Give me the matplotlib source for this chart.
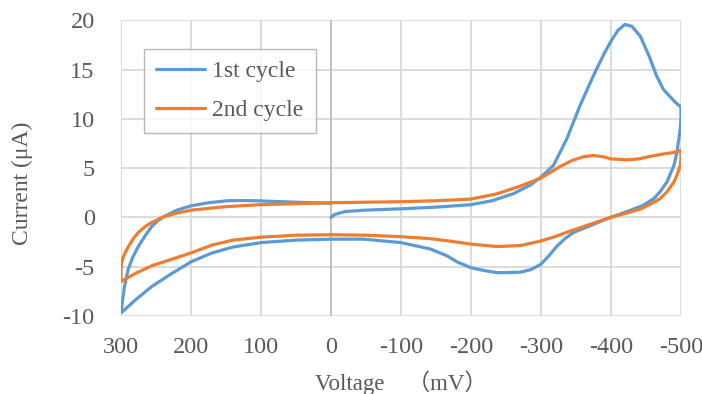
import matplotlib
matplotlib.use("Agg")
import matplotlib.pyplot as plt

# 1st cycle: path starts at 0 mV, sweeps to -500, back to +300, then to 0
cycle1_v = [0, -5, -20, -50, -100, -150, -200, -230, -260, -285, -300,
            -318, -337, -356, -375, -390, -400, -410, -420, -430, -442,
            -455, -465, -475, -484, -492, -500,
            -500, -499, -497, -494, -490, -480, -470, -461, -445, -432,
            -415, -399, -385, -370, -347, -335, -323, -310, -299, -285,
            -271, -250, -237, -220, -200, -180, -166, -142, -100, -47,
            0, 50, 100, 140, 170, 200, 230, 256, 280, 300,
            298, 295, 290, 283, 275, 265, 256, 247, 237, 220, 199, 175,
            148, 120, 100, 50, 0]
cycle1_i = [0.0, 0.3, 0.6, 0.75, 0.88, 1.05, 1.3, 1.7, 2.4, 3.3, 4.1,
            5.3, 8.0, 11.4, 14.4, 16.6, 17.9, 19.0, 19.6, 19.4, 18.4,
            16.3, 14.4, 13.0, 12.3, 11.7, 11.2,
            10.0, 9.0, 8.0, 6.5, 5.3, 3.6, 2.6, 1.9, 1.2, 0.85,
            0.4, 0.0, -0.4, -0.85, -1.5, -2.1, -2.9, -4.0, -4.8, -5.3,
            -5.55, -5.6, -5.6, -5.4, -5.1, -4.5, -3.9, -3.2, -2.55, -2.2,
            -2.2, -2.3, -2.55, -3.0, -3.6, -4.5, -5.8, -7.0, -8.4, -9.7,
            -8.5, -7.0, -5.3, -4.0, -2.9, -1.8, -0.9, -0.3, 0.15, 0.75, 1.2, 1.5,
            1.7, 1.72, 1.68, 1.55, 1.45]

# 2nd cycle
cycle2_v = [0, -50, -100, -150, -200, -237, -271, -300, -328, -345, -360,
            -375, -390, -400, -423, -440, -456, -475, -490, -500,
            -500, -499, -495, -490, -480, -470, -455, -442, -420, -399,
            -370, -337, -320, -299, -271, -237, -200, -170, -142, -100,
            -50, 0, 50, 100, 140, 170, 200, 230, 256, 280, 300,
            300, 299, 295, 289, 282, 275, 265, 256, 240, 220, 199, 150,
            100, 50, 0]
cycle2_i = [1.5, 1.55, 1.6, 1.7, 1.87, 2.4, 3.2, 4.0, 5.2, 5.8, 6.15,
            6.3, 6.15, 5.95, 5.85, 5.95, 6.2, 6.45, 6.6, 6.8,
            6.0, 5.3, 4.4, 3.6, 2.6, 1.9, 1.3, 0.85, 0.4, 0.0,
            -0.7, -1.5, -1.95, -2.4, -2.85, -2.95, -2.7, -2.4, -2.15, -1.95,
            -1.8, -1.75, -1.8, -2.0, -2.3, -2.8, -3.6, -4.3, -4.9, -5.7, -6.5,
            -5.2, -4.5, -3.7, -2.9, -2.1, -1.5, -0.9, -0.5, 0.05, 0.45, 0.75, 1.1,
            1.3, 1.4, 1.5]

series_labels = ["1st cycle", "2nd cycle"]
x_ticks = [300, 200, 100, 0, -100, -200, -300, -400, -500]
y_ticks = [-10, -5, 0, 5, 10, 15, 20]

plt.rcParams["font.family"] = ["Liberation Serif", "Noto Sans CJK JP"]
plt.rcParams["axes.unicode_minus"] = False

fig = plt.figure(figsize=(7.02, 3.94), dpi=100)
ax = fig.add_axes([0.1724, 0.198, 0.7976, 0.750])

ax.plot(cycle1_v, cycle1_i, color="#5b9bd5", lw=2.3, label=series_labels[0],
        solid_capstyle="round", solid_joinstyle="round", zorder=3)
ax.plot(cycle2_v, cycle2_i, color="#ed7d31", lw=2.3, label=series_labels[1],
        solid_capstyle="round", solid_joinstyle="round", zorder=3)

ax.set_xlim(300, -500)
ax.set_ylim(-10, 20)
ax.set_xticks(x_ticks)
ax.set_yticks(y_ticks)
ax.grid(True, color="#d9d9d9", lw=1.3)
ax.set_axisbelow(True)
for s in ax.spines.values():
    s.set_visible(False)
ax.axvline(0, color="#bfbfbf", lw=1.3, zorder=2)
ax.tick_params(length=0, labelsize=17.5, labelcolor="#595959")
ax.tick_params(axis="x", pad=15)
ax.tick_params(axis="y", pad=19)

ax.set_xlabel("Voltage\u3000（mV）", fontsize=16.5, color="#595959", labelpad=9)
ax.set_ylabel("Current (μA)", fontsize=17, color="#595959")
ax.yaxis.set_label_coords(-0.157, 0.45)

leg = ax.legend(loc="upper left", bbox_to_anchor=(0.041, 0.904), borderaxespad=0,
                fancybox=False, edgecolor="#a6a6a6", fontsize=17,
                handlelength=2.1, labelspacing=0.75, borderpad=0.5,
                handletextpad=0.3)
leg.get_frame().set_linewidth(1.0)
for t in leg.get_texts():
    t.set_color("#595959")

fig.savefig("out.png", dpi=100)
